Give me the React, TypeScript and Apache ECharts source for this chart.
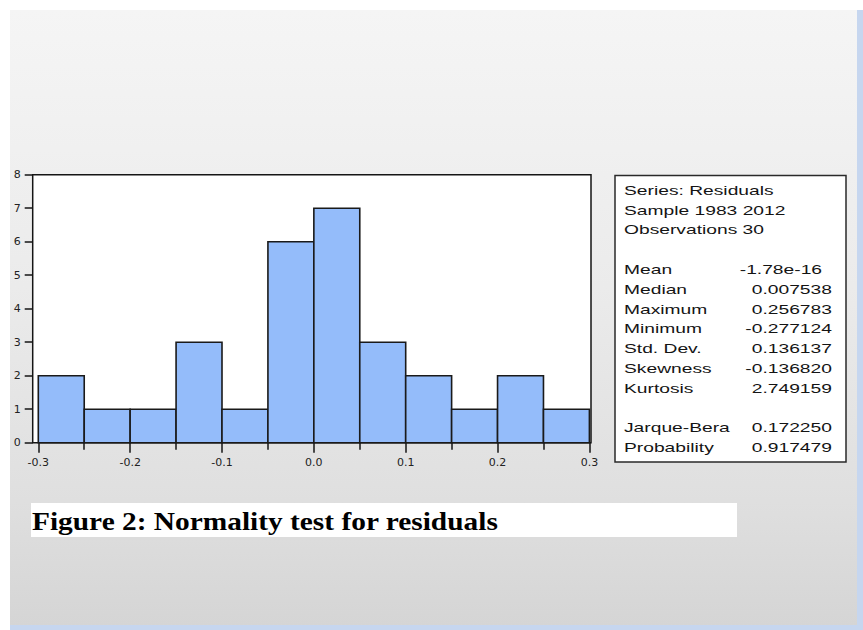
import React, { useEffect, useRef } from "react";
import * as echarts from "echarts";

// ---- data ----
const binStarts = [-0.3, -0.25, -0.2, -0.15, -0.1, -0.05, 0.0, 0.05, 0.1, 0.15, 0.2, 0.25];
const binWidth = 0.05;
const counts = [2, 1, 1, 3, 1, 6, 7, 3, 2, 1, 2, 1];
const xTickLabels = ["-0.3", "-0.2", "-0.1", "0.0", "0.1", "0.2", "0.3"];
const yTickLabels = ["0", "1", "2", "3", "4", "5", "6", "7", "8"];

const statsHeader = ["Series: Residuals", "Sample 1983 2012", "Observations 30"];
const statNames = ["Mean", "Median", "Maximum", "Minimum", "Std. Dev.", "Skewness", "Kurtosis"];
const statValues = ["-1.78e-16", "0.007538", "0.256783", "-0.277124", "0.136137", "-0.136820", "2.749159"];
const testNames = ["Jarque-Bera", "Probability"];
const testValues = ["0.172250", "0.917479"];
const caption = "Figure 2: Normality test for residuals";

export default function App() {
  const ref = useRef<HTMLDivElement>(null);

  useEffect(() => {
    if (!ref.current) return;
    const chart = echarts.init(ref.current, undefined, { renderer: "svg" });

    const histData = binStarts.map((s, i) => [s, s + binWidth, counts[i]]);

    // stats text
    const sx = 1.48;
    const rowY = (i: number) => 190 + i * 19.8;
    const statFont = { fontFamily: "Liberation Sans, Arial, sans-serif", fontSize: 13, fill: "#141414", verticalAlign: "middle" };
    const statChildren: any[] = [];
    statsHeader.forEach((t, i) => {
      statChildren.push({ type: "text", x: 0, y: rowY(i), style: { ...statFont, text: t, align: "left" } });
    });
    statNames.forEach((t, i) => {
      statChildren.push({ type: "text", x: 0, y: rowY(4 + i), style: { ...statFont, text: t, align: "left" } });
      const v = statValues[i];
      const right = v.indexOf("e") >= 0 ? 133.8 : 140.5;
      statChildren.push({ type: "text", x: right, y: rowY(4 + i), style: { ...statFont, text: v, align: "right" } });
    });
    testNames.forEach((t, i) => {
      statChildren.push({ type: "text", x: 0, y: rowY(12 + i), style: { ...statFont, text: t, align: "left" } });
      statChildren.push({ type: "text", x: 140.5, y: rowY(12 + i), style: { ...statFont, text: testValues[i], align: "right" } });
    });

    const axisLabelFont = {
      fontFamily: "DejaVu Sans, Verdana, sans-serif",
      fontSize: 11,
      color: "#222222",
    };

    const option: any = {
      animation: false,
      backgroundColor: "#ffffff",
      graphic: [
        {
          type: "rect",
          z: -20,
          silent: true,
          shape: { x: 10, y: 10, width: 847, height: 615 },
          style: {
            fill: new echarts.graphic.LinearGradient(0, 0, 0, 1, [
              { offset: 0, color: "#f5f5f5" },
              { offset: 0.45, color: "#ebebeb" },
              { offset: 0.8, color: "#dfdfdf" },
              { offset: 1, color: "#d5d5d5" },
            ]),
          },
        },
        { type: "rect", z: -20, silent: true, shape: { x: 857, y: 10, width: 6, height: 620 }, style: { fill: "#c6d6ef" } },
        { type: "rect", z: -20, silent: true, shape: { x: 10, y: 625, width: 853, height: 5 }, style: { fill: "#c6d6ef" } },
        // plot frame
        {
          type: "rect",
          z: -10,
          silent: true,
          shape: { x: 32.7, y: 174.7, width: 558.3, height: 268 },
          style: { fill: "#ffffff", stroke: "#151515", lineWidth: 1.5 },
        },
        // stats box
        {
          type: "rect",
          z: -10,
          silent: true,
          shape: { x: 615, y: 175.5, width: 231, height: 286.5 },
          style: { fill: "#ffffff", stroke: "#2a2a2a", lineWidth: 1.5 },
        },
        { type: "group", x: 624, y: 0, scaleX: sx, children: statChildren },
        // caption
        { type: "rect", z: -10, silent: true, shape: { x: 31, y: 503, width: 706, height: 34 }, style: { fill: "#ffffff" } },
        {
          type: "group",
          x: 32,
          y: 0,
          scaleX: 1.13,
          children: [
            {
              type: "text",
              x: 0,
              y: 521,
              style: {
                text: caption,
                fontFamily: "Liberation Serif, Times New Roman, serif",
                fontWeight: "bold",
                fontSize: 26,
                fill: "#000000",
                align: "left",
                verticalAlign: "middle",
              },
            },
          ],
        },
      ],
      grid: { left: 38.3, right: 273.6, top: 174.7, bottom: 187.3, containLabel: false },
      xAxis: {
        type: "value",
        min: -0.3,
        max: 0.3,
        interval: 0.1,
        axisLine: { show: false, onZero: false },
        axisTick: { show: true, length: 10, lineStyle: { color: "#151515", width: 1.5 } },
        minorTick: { show: true, splitNumber: 2, length: 7, lineStyle: { color: "#151515", width: 1.5 } },
        splitLine: { show: false },
        minorSplitLine: { show: false },
        axisLabel: {
          margin: 14,
          ...axisLabelFont,
          formatter: (v: number) => {
            const idx = Math.round((v + 0.3) / 0.1);
            return xTickLabels[idx] ?? "";
          },
        },
      },
      yAxis: {
        type: "value",
        min: 0,
        max: 8,
        interval: 1,
        offset: 5.6,
        axisLine: { show: false, onZero: false },
        axisTick: { show: true, length: 8, lineStyle: { color: "#151515", width: 1.5 } },
        splitLine: { show: false },
        axisLabel: {
          margin: 12,
          ...axisLabelFont,
          formatter: (v: number) => yTickLabels[Math.round(v)] ?? "",
        },
      },
      series: [
        {
          type: "custom",
          data: histData,
          encode: { x: [0, 1], y: 2 },
          renderItem: (params: any, api: any) => {
            const x0 = api.value(0);
            const x1 = api.value(1);
            const c = api.value(2);
            const p0 = api.coord([x0, c]);
            const p1 = api.coord([x1, 0]);
            return {
              type: "rect",
              shape: { x: p0[0], y: p0[1], width: p1[0] - p0[0], height: p1[1] - p0[1] },
              style: { fill: "#94bcfa", stroke: "#1a1a1a", lineWidth: 1.6 },
            };
          },
        },
      ],
    };

    chart.setOption(option);
    return () => chart.dispose();
  }, []);

  return (
    <div
      ref={ref}
      style={{ position: "absolute", left: 0, top: 0, width: 863, height: 630 }}
    />
  );
}
